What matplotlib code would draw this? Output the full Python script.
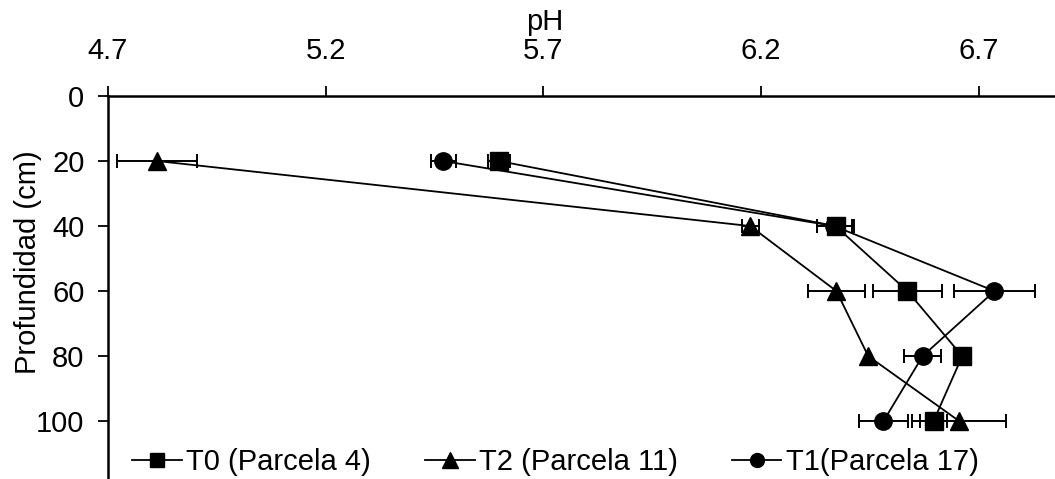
import matplotlib.pyplot as plt
from matplotlib.lines import Line2D

plt.rcParams['font.family'] = ['Liberation Sans', 'DejaVu Sans']

# depth of each sample (cm)
depth = [20, 40, 60, 80, 100]

# mean pH and error per treatment
ph_t0 = [5.598, 6.371, 6.536, 6.662, 6.596]
err_t0 = [0.026, 0.042, 0.079, 0.0, 0.03]
ph_t2 = [4.813, 6.175, 6.373, 6.446, 6.655]
err_t2 = [0.092, 0.02, 0.065, 0.0, 0.108]
ph_t1 = [5.470, 6.368, 6.736, 6.571, 6.481]
err_t1 = [0.029, 0.04, 0.094, 0.043, 0.057]

labels = ['T0 (Parcela 4)', 'T2 (Parcela 11)', 'T1(Parcela 17)']
x_ticks = [4.7, 5.2, 5.7, 6.2, 6.7]
y_ticks = [0, 20, 40, 60, 80, 100]

W, H = 1055, 479
fig = plt.figure(figsize=(W / 100, H / 100), dpi=100)
left, top = 108, 96
ax = fig.add_axes([left / W, 0, 1 - left / W, 1 - top / H])

series = [
    (ph_t0, err_t0, 's', 12.5, 10.5, labels[0]),
    (ph_t2, err_t2, '^', 13.5, 11.5, labels[1]),
    (ph_t1, err_t1, 'o', 12.5, 10, labels[2]),
]
handles = []
for ph, err, mk, ms, ms_leg, lab in series:
    ax.errorbar(ph, depth, xerr=err, color='black', marker=mk, markersize=ms,
                linewidth=1.3, elinewidth=1.4, capsize=5, capthick=1.4)
    handles.append(Line2D([], [], color='black', marker=mk, markersize=ms_leg,
                          linewidth=1.3, label=lab))

ax.set_xlim(4.7, 6.875)
ax.set_ylim(117.8, 0)
ax.set_xticks(x_ticks)
ax.set_xticklabels([f'{v:.1f}' for v in x_ticks])
ax.set_yticks(y_ticks)

ax.xaxis.tick_top()
ax.xaxis.set_label_position('top')
ax.spines['right'].set_visible(False)
ax.spines['bottom'].set_visible(False)
for s in ['top', 'left']:
    ax.spines[s].set_linewidth(1.8)

ax.tick_params(axis='x', direction='out', length=7, width=1.3, labelsize=21, pad=15)
ax.tick_params(axis='y', direction='out', length=7, width=1.3, labelsize=21, pad=10)

ax.set_xlabel('pH', fontsize=21)
ax.xaxis.set_label_coords(0.461, 1.193)
ax.xaxis.label.set_va('center')
ax.set_ylabel('Profundidad (cm)', fontsize=21)
ax.yaxis.set_label_coords(-0.0845, 0.567)
ax.yaxis.label.set_va('center')

ax.legend(handles=handles, loc='center left', bbox_to_anchor=(0.0258, 0.045),
          ncol=3, frameon=False, fontsize=21, handlelength=1.7,
          handletextpad=0.15, columnspacing=1.85, borderpad=0, borderaxespad=0)

fig.savefig('out.png', dpi=100)
